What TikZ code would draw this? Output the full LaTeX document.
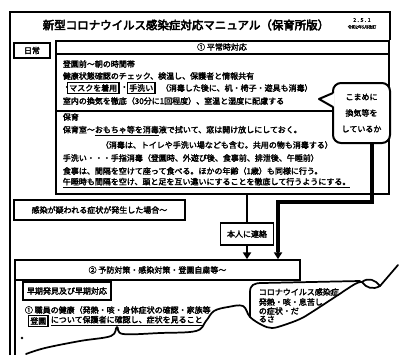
\documentclass[tikz,border=0pt]{standalone}
\usepackage{fontspec}
\setmainfont{Noto Sans CJK JP}[BoldFont={Noto Sans CJK JP},BoldFeatures={FakeBold=2.5}]
\newfontfamily\heavyjp{Noto Sans CJK JP}[FakeBold=4]
\usetikzlibrary{arrows.meta,calc}
\begin{document}
\begin{tikzpicture}[x=0.75pt,y=-0.75pt,
  line width=1.3pt,
  fs/.style={font=\fontsize{6}{7}\selectfont\bfseries},
  txt/.style={fs,anchor=west,inner sep=0pt},
  ctxt/.style={fs,inner sep=0pt},
  boxed/.style={fs,draw,inner sep=1.2pt,line width=1pt},
  frame/.style={draw,inner sep=0pt,fs},
  fat/.style={line width=2.4pt},
  tip/.style={-{Triangle[width=6pt,length=5pt]}},
  tear/.style={line width=1.3pt,line join=round,line cap=round}
]
\useasboundingbox[fill=white] (0,0) rectangle (399,355);

% outer frame
\draw (10,355) -- (10,12) -- (390,12) -- (390,40);

% title
\node[inner sep=0pt,font=\fontsize{8.6}{10}\selectfont\heavyjp] (title) at (186,25) {新型コロナウイルス感染症対応マニュアル（保育所版）};
\node[inner sep=0pt,font=\fontsize{4}{4}\selectfont\bfseries] (date1) at (362,20) {2 . 5 . 1};
\node[inner sep=0pt,font=\fontsize{3}{3}\selectfont\bfseries] (date2) at (362,27) {令和2年5月改訂};

% daily label
\node[frame,line width=1.6pt,minimum width=36*0.75pt,minimum height=15*0.75pt] (daily) at (32,50.5) {日常};

% main box
\node[draw,anchor=north west,minimum width=333*0.75pt,minimum height=153*0.75pt,inner sep=0pt] (mainbox) at (55,40) {};
\draw (55,54) -- (388,54);
\draw (55,111) -- (388,111);
\node[ctxt] (h1) at (222,47) {① 平常時対応};

\node[txt] (r1) at (62,64) {登園前～朝の時間帯};
\node[txt] (r2) at (62,76) {健康状態確認のチェック、検温し、保護者と情報共有};
\node[txt] (r3a) at (62,88) {・};
\node[boxed,anchor=west] (r3b) at (67,88) {マスクを着用};
\node[txt] (r3c) at (119.5,88) {・};
\node[boxed,anchor=west] (r3d) at (127,88) {手洗い};
\node[txt] (r3e) at (160,88) {（消毒した後に、机・椅子・遊具も消毒）};
\node[txt] (r4) at (62,101) {室内の換気を徹底（30分に1回程度）、室温と湿度に配慮する};

\node[txt] (r5) at (62,117) {保育};
\node[txt] (r6) at (62,131) {保育室～\underline{おもちゃ等を消毒}液で拭いて、窓は開け放しにしておく。};
\node[txt] (r7) at (100,145) {（消毒は、トイレや手洗い場なども含む。共用の物も消毒する）};
\node[txt] (r8) at (62,158) {手洗い・・・手指消毒（登園時、外遊び後、食事前、排泄後、午睡前）};
\node[txt] (r9) at (62,171) {食事は、間隔を空けて座って食べる。ほかの年齢（1歳）も同様に行う。};
\node[txt] (r10) at (62,183) {\underline{午睡時も間隔を空け、頭と足を互い違いにすることを徹底して行うようにする。}};

% memo bubble
\node[draw,fill=white,rounded corners=6pt,minimum width=57*0.75pt,minimum height=60*0.75pt,inner sep=0pt,line width=1.5pt,align=center,font=\fontsize{6}{12}\selectfont\bfseries] (memo) at (361.5,113) {こまめに\\換気等を\\しているか};
\fill[white] (334.5,93) -- (319,99) -- (334.5,107) -- cycle;
\draw[line width=1.5pt,line join=round] (333,93) -- (319,99) -- (333,107);

% alert box
\node[frame,line width=1.7pt,minimum width=171*0.75pt,minimum height=20*0.75pt] (alert) at (99.5,210) {感染が疑われる症状が発生した場合～};

% call box
\node[frame,line width=1.3pt,minimum width=53*0.75pt,minimum height=22*0.75pt] (call) at (247,234) {本人に連絡};

% lower header
\node[frame,minimum width=285*0.75pt,minimum height=20*0.75pt] (h2) at (157.5,270) {② 予防対策・感染対策・登園自粛等～};
\draw (15,280) -- (15,355);

% connectors
\coordinate (b1) at (372,202);
\coordinate (b2) at (278,202);
\draw[fat,line join=miter] (memo.south -| b1) -- (b1) -- (b2) -- ($(b2 |- h2.north)+(0,-7)$);
\draw[line width=1.5pt,tip] ($(b2 |- h2.north)+(0,-8)$) -- (b2 |- h2.north);
\draw[line width=1.5pt] (call.north |- mainbox.south) -- (call.north);
\draw[line width=1.5pt,tip] (call.south) -- (call.south |- h2.north);

% lower content
\node[frame,line width=1.3pt,minimum width=88*0.75pt,minimum height=18*0.75pt] (early) at (67,291) {早期発見及び早期対応};
\node[txt] (l1) at (24,310) {① 職員の健康（発熱・咳・身体症状の確認・家族等};
\node[boxed,anchor=west] (l2a) at (28,321) {登園};
\node[txt] (l2) at (50,321) {\underline{について保護者に確認し、症状を見ること}};
\fill (22,338) circle (1.3);

% torn edge
\draw[tear] plot[smooth,tension=0.6] coordinates {(26,354) (45,348) (80,341) (111,336) (117,327) (123,334) (160,333) (196,331) (206,321) (214,311) (228,307) (243,306) (250,317) (262,325) (272,328) (284,325) (300,319) (312,312) (335,297) (355,284) (362,282)};
\draw[tear] (250,317) -- (250,292) .. controls (250,285) and (254,283) .. (262,283) -- (360,281);
\draw[tear] (362,282) .. controls (368,277) and (376,280) .. (380,286) .. controls (373,290) and (366,288) .. (362,282);
\draw[tear] (380,286) -- (398,265);

% bubble text
\node[txt] (c1) at (258,292) {コロナウイルス感染症};
\node[txt] (c2) at (258,302) {発熱・咳・息苦し};
\node[txt] (c3) at (258,311) {の症状・だ};
\node[txt] (c4) at (258,319) {るさ};
\end{tikzpicture}
\end{document}
